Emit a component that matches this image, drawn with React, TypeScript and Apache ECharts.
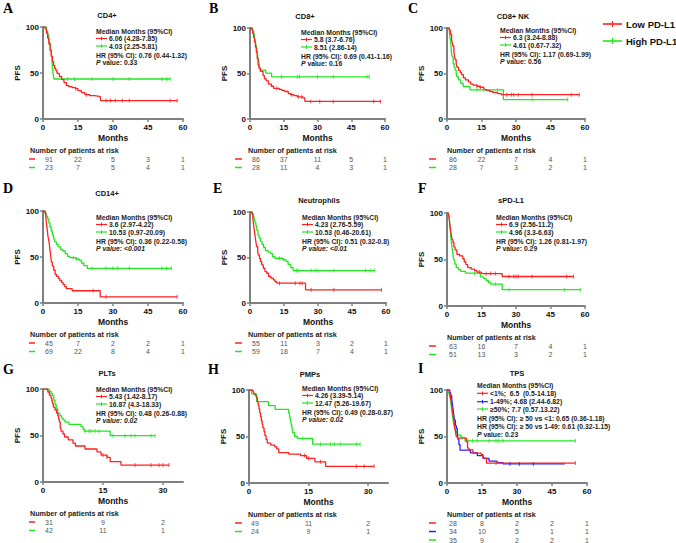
import React, { useEffect, useRef } from "react";
import * as echarts from "echarts";

const RED = "#ff2020";
const GREEN = "#22e622";
const BLUE = "#2323ff";
const AX = "#808080";
const FONT = "'Liberation Sans', Arial, Helvetica, sans-serif";
const SERIF = "'Liberation Serif', 'Times New Roman', serif";

// ---------- Panel A: CD4+ ----------
const cd4Low = [[0,100],[1,97.8],[1.5,93.4],[2,87.9],[2.5,81.3],[3,74.7],[3.5,68.1],[4,62.6],[4.5,58.2],[5,54.9],[5.5,52.7],[6,49.5],[7,46.2],[8,42.9],[9,39.6],[10,36.3],[11,35.2],[12.5,34.1],[14,33],[15,30.8],[16.5,28.6],[18,26.4],[20,25.3],[22,24.7],[24.2,24.2],[24.6,20],[57.5,20]];
const cd4LowCens = [14, 18.6, 27, 29, 31, 34, 37, 54.5, 57.5];
const cd4High = [[0,100],[1.5,95.7],[2,91.3],[2.5,87],[2.8,82.6],[3.2,78.3],[3.5,73.9],[3.7,69.6],[3.9,65.2],[4.0,56.5],[4.2,52.2],[4.4,47.8],[4.7,43.5],[54.5,43.5]];
const cd4HighCens = [10.5, 13.5, 21, 30, 37, 51, 53, 54.5];
const cd4Risk = [[91,22,5,3,1],[23,7,5,4,1]];

// ---------- Panel B: CD8+ ----------
const cd8Low = [[0,100],[0.8,97.7],[1.2,94.2],[1.6,89.5],[2,84.9],[2.4,79.1],[2.8,73.3],[3.2,66.3],[3.6,59.3],[4,55.8],[4.6,52.3],[5.8,47.7],[6.4,44.2],[7.2,41.9],[8.2,38.4],[9.5,36],[10.5,33.7],[13,32.6],[14.2,31.4],[15.5,30.2],[17,27.9],[18,26.7],[19.5,25.6],[21,24.4],[23.5,23.3],[24.4,19.3],[58,19.3]];
const cd8LowCens = [12, 18.5, 21.5, 23, 27, 31, 37, 55, 58];
const cd8High = [[0,100],[1.2,96.4],[1.6,92.9],[2,89.3],[2.3,85.7],[2.6,82.1],[2.9,78.6],[3.1,75],[3.3,71.4],[3.5,67.9],[3.8,64.3],[4,60.7],[4.3,57.1],[4.6,53.6],[7,50.5],[9.6,46.4],[53,46.4]];
const cd8HighCens = [14, 21, 22, 30, 37, 52, 53];
const cd8Risk = [[86,37,11,5,1],[28,11,4,3,1]];

// ---------- Panel C: CD8+ NK ----------
const nkLow = [[0,100],[1,97.7],[1.5,93],[2,87.2],[2.3,83.7],[2.6,80.2],[3,73.3],[3.3,68.6],[3.6,65.1],[4,60.5],[4.3,57],[5,53.5],[5.7,51.2],[6.3,48.8],[7.1,45.3],[8,43],[9.3,40.7],[10.3,38.4],[11.4,37.2],[13,36],[14.3,34.9],[16,32.6],[17,31.4],[18.5,30.2],[20,29.1],[22,27.9],[23.6,26.7],[57.5,26.7]];
const nkLowCens = [13, 14.5, 26, 28, 29, 31, 37, 54, 57.5];
const nkHigh = [[0,100],[1,96.4],[1.3,89.3],[1.6,85.7],[1.8,78.6],[2,71.4],[2.3,67.9],[2.7,60.7],[3.1,57.1],[3.5,53.6],[4,50],[4.3,46.4],[5,42.9],[6,39.3],[7,35.7],[10,32.1],[24.5,21.4],[52.5,21.4]];
const nkHighCens = [13, 16, 22, 37, 52.5];
const nkRisk = [[86,22,7,4,1],[28,7,3,2,1]];

// ---------- Panel D: CD14+ ----------
const cd14Low = [[0,100],[0.8,97.8],[1.2,93.3],[1.5,86.7],[1.8,80],[2.1,73.3],[2.4,68.9],[2.7,64.4],[3,57.8],[3.3,51.1],[3.6,44.4],[4,40],[4.6,35.6],[5.2,31.1],[5.8,28.9],[6.6,26.7],[7.2,24.4],[8,22.2],[8.6,20],[9.3,17.8],[10,15.6],[12.5,13.3],[24.5,6.7],[57.5,6.7]];
const cd14LowCens = [21.5, 27, 57.5];
const cd14High = [[0,100],[1,97.1],[1.5,94.2],[2,91.3],[2.5,87],[3,82.6],[3.5,78.3],[4,73.9],[4.5,69.6],[5,66.7],[5.7,63.8],[6.5,60.9],[7.5,58],[8.5,56.5],[9.5,53.6],[10.5,50.7],[11.5,49.3],[14,47.8],[15.5,46.4],[16.5,43.5],[17.5,40.6],[19,37.7],[55,37.7]];
const cd14HighCens = [13, 14.5, 21, 27, 30, 32, 37, 51, 53, 55];
const cd14Risk = [[45,7,2,2,1],[69,22,8,4,1]];

// ---------- Panel E: Neutrophils ----------
const neuLow = [[0,100],[0.8,98.2],[1.2,94.5],[1.5,87.3],[1.8,81.8],[2.1,76.4],[2.4,70.9],[2.7,65.5],[3,61.8],[3.4,56.4],[3.7,52.7],[4.2,49.1],[4.6,45.5],[5.2,41.8],[5.9,38.2],[6.6,34.5],[7.4,32.7],[8.2,29.1],[9.2,27.3],[10.3,25.5],[11,23.6],[11.8,21.8],[24.5,14.5],[58,14.5]];
const neuLowCens = [13, 20, 22, 23, 27, 37, 58];
const neuHigh = [[0,100],[1,98.3],[1.4,94.9],[1.8,91.5],[2.2,88.1],[2.6,84.7],[3,79.7],[3.5,74.6],[4,71.2],[4.7,67.8],[5.3,64.4],[6,61],[6.8,57.6],[8,55.9],[9,54.2],[10,50.8],[11,49.2],[14.5,47.5],[16,45.8],[16.8,42.4],[18,39],[19,35.6],[55,35.6]];
const neuHighCens = [13, 15, 20.5, 21.5, 27, 29, 30, 37, 51, 53, 55];
const neuRisk = [[55,11,3,2,1],[59,18,7,4,1]];

// ---------- Panel F: sPD-L1 ----------
const spdLow = [[0,100],[0.6,98.4],[0.9,95.2],[1.1,90.5],[1.3,85.7],[1.6,81],[1.9,76.2],[2.2,71.4],[2.6,68.3],[3,63.5],[3.5,60.3],[4.3,55.6],[5.5,54],[6.9,50.8],[7.5,47.6],[8.2,44.4],[9,41.3],[10.5,39.7],[12,38.1],[13,36.5],[15,34.9],[24,31.7],[55,31.7]];
const spdLowCens = [14, 17, 19, 21, 27, 29, 30, 31, 37, 52, 55];
const spdHigh = [[0,100],[0.7,98],[1,94.1],[1.2,88.2],[1.4,82.4],[1.6,76.5],[1.8,70.6],[2.1,64.7],[2.4,58.8],[2.7,52.9],[3,49],[3.4,45.1],[4,41.2],[5,39.2],[6,37.3],[8,35.3],[14.5,31.4],[16,29.4],[17,27.5],[18,25.5],[19,23.5],[24,17.6],[58,17.6]];
const spdHighCens = [12, 21, 27, 51, 58];
const spdRisk = [[63,16,7,4,1],[51,13,3,2,1]];

// ---------- Panel G: PLTs ----------
const pltLow = [[0,100],[1.2,96.8],[1.6,93.5],[2,90.3],[2.2,87.1],[2.4,83.9],[2.6,80.6],[3,77.4],[3.4,74.2],[3.7,71],[3.9,67.7],[4.1,64.5],[4.3,58.1],[4.5,54.8],[5,51.6],[5.4,48.4],[6.3,45.2],[7.5,41.9],[8.1,38.7],[10.5,35.5],[13.5,32.3],[14.5,29],[16,26.5],[16.8,21.9],[19.5,18.2],[31.5,18.2]];
const pltLowCens = [15, 16, 23, 27, 29, 30, 31.5];
const pltHigh = [[0,100],[1.5,97.6],[2,95.2],[2.4,92.9],[2.7,88.1],[3,83.3],[3.3,78.6],[3.7,73.8],[4.2,71.4],[4.6,69],[5,66.7],[5.5,64.3],[6.5,61.9],[9.5,59.5],[10,57.1],[10.3,54.8],[16.8,49.8],[28,49.8]];
const pltHighCens = [10.5, 11.5, 12, 13, 14, 17.5, 20.5, 22, 23, 27, 28];
const pltRisk = [[31,9,2],[42,11,1]];

// ---------- Panel H: PMPs ----------
const pmpLow = [[0,100],[1,98],[1.2,95.9],[1.6,93.9],[1.9,91.8],[2.1,87.8],[2.3,83.7],[2.5,79.6],[2.7,75.5],[2.9,71.4],[3.1,67.3],[3.3,63.3],[3.5,59.2],[3.8,55.1],[4,51],[4.3,46.9],[4.6,42.9],[5.5,40.8],[6.5,38.8],[7,36.7],[7.5,32.7],[10,31.1],[13,29.5],[14.5,26.5],[16.6,22.8],[19.3,17.9],[31.5,17.9]];
const pmpLowCens = [14, 15, 18, 27, 29, 31.5];
const pmpHigh = [[0,100],[0.7,95.8],[1.9,87.5],[4.9,83.3],[6.6,79.2],[10,75],[10.2,70.8],[10.4,66.7],[10.6,62.5],[10.8,58.3],[11,54.2],[11.5,50],[12.2,47.9],[16,41.7],[28,41.7]];
const pmpHighCens = [13.5, 18, 20.5, 21.5, 23, 27, 28];
const pmpRisk = [[49,11,2],[24,9,1]];

// ---------- Panel I: TPS ----------
const tpsLow = [[0,100],[1,96.4],[1.4,92.9],[1.7,89.3],[1.9,85.7],[2.1,82.1],[2.3,78.6],[2.5,75],[2.7,71.4],[2.9,67.9],[3.1,64.3],[3.3,60.7],[3.5,57.1],[3.7,53.6],[4,50],[4.5,48.2],[8.3,44.6],[8.8,37.5],[9.4,35.7],[11.1,32.1],[14.7,30.4],[15.4,26.8],[16.9,21.4],[55,21.4]];
const tpsLowCens = [21, 55];
const tpsMid = [[0,100],[1.2,97.1],[1.6,94.1],[2,91.2],[2.3,85.3],[2.6,79.4],[2.9,73.5],[3.2,67.6],[3.6,61.8],[4,58.8],[4.4,52.9],[4.7,47.1],[5.1,41.2],[5.6,35.3],[10,32.4],[13,29.4],[15.5,26.5],[18,23.5],[21.5,22],[24,20.5],[50.5,20.5]];
const tpsMidCens = [27, 31, 37];
const tpsHigh = [[0,100],[0.8,97.1],[1,94.3],[1.3,91.4],[1.5,88.6],[1.7,85.7],[1.9,80],[2.1,77.1],[2.4,71.4],[2.6,68.6],[2.9,62.9],[3.2,60],[3.5,57.1],[3.9,54.3],[4.5,51.4],[6,48.6],[7.7,45.3],[55,45.3]];
const tpsHighCens = [6.5, 8, 9, 11, 13, 18, 21, 22, 24, 55];
const tpsRisk = [[28,8,2,2,1],[34,10,5,1,1],[35,9,2,2,1]];

// ---------- Texts ----------
const letters = ["A","B","C","D","E","F","G","H","I"];
const titles = ["CD4+","CD8+","CD8+ NK","CD14+","Neutrophils","sPD-L1","PLTs","PMPs","TPS"];
const xMaxes = [60,60,60,60,60,60,35,35,60];
const ticks60 = [0,15,30,45,60];
const ticks35 = [0,15,30];
const medianLines = [
  ["6.06 (4.28-7.85)","4.03 (2.25-5.81)"],
  ["5.8 (3.7-6.76)","8.51 (2.86-14)"],
  ["6.3 (3.24-8.88)","4.61 (0.67-7.32)"],
  ["3.6 (2.97-4.22)","10.53 (0.97-20.09)"],
  ["4.23 (2.76-5.59)","10.53 (0.46-20.61)"],
  ["6.9 (2.56-11.2)","4.96 (3.3-6.63)"],
  ["5.43 (1.42-8.17)","16.87 (4.3-18.33)"],
  ["4.26 (3.39-5.14)","12.47 (5.26-19.67)"],
  ["<1%;  6.5  (0.5-14.18)","1-49%; 4.68 (2.44-6.82)","≥50%; 7.7 (0.57.13.22)"],
];
const hrLines = [
  ["HR (95% CI): 0.76 (0.44-1.32)"],
  ["HR (95% CI): 0.69 (0.41-1.16)"],
  ["HR (95% CI): 1.17 (0.69-1.99)"],
  ["HR (95% CI): 0.36 (0.22-0.58)"],
  ["HR (95% CI): 0.51 (0.32-0.8)"],
  ["HR (95% CI): 1.26 (0.81-1.97)"],
  ["HR (95% CI): 0.48 (0.26-0.88)"],
  ["HR (95% CI): 0.49 (0.28-0.87)"],
  ["HR (95% CI): ≥ 50 vs <1: 0.65 (0.36-1.18)","HR (95% CI): ≥ 50 vs 1-49: 0.61 (0.32-1.15)"],
];
const pValues = ["0.33","0.16","0.56","<0.001","<0.01","0.29","0.02","0.02","0.23"];
const pAllItalic = [false,false,false,true,true,false,true,true,false];
const legendNames = ["Low PD-L1","High PD-L1"];

const panelCurves = [
  [cd4Low, cd4High],[cd8Low, cd8High],[nkLow, nkHigh],
  [cd14Low, cd14High],[neuLow, neuHigh],[spdLow, spdHigh],
  [pltLow, pltHigh],[pmpLow, pmpHigh],[tpsLow, tpsMid, tpsHigh],
];
const panelCens = [
  [cd4LowCens, cd4HighCens],[cd8LowCens, cd8HighCens],[nkLowCens, nkHighCens],
  [cd14LowCens, cd14HighCens],[neuLowCens, neuHighCens],[spdLowCens, spdHighCens],
  [pltLowCens, pltHighCens],[pmpLowCens, pmpHighCens],[tpsLowCens, tpsMidCens, tpsHighCens],
];
const panelRisk = [cd4Risk, cd8Risk, nkRisk, cd14Risk, neuRisk, spdRisk, pltRisk, pmpRisk, tpsRisk];

// ---------- Layout (positions only) ----------
const GRID = [
  { l: 43, t: 27, w: 140, h: 92 }, { l: 250, t: 28, w: 135, h: 91 }, { l: 447, t: 28, w: 138, h: 91 },
  { l: 43, t: 211, w: 140, h: 92 }, { l: 250, t: 212, w: 136, h: 91 }, { l: 447, t: 213, w: 138, h: 93 },
  { l: 43, t: 389, w: 140, h: 93 }, { l: 249, t: 390, w: 139, h: 93 }, { l: 447, t: 390, w: 140, h: 93 },
];
const TITLE_POS = [[107,15],[305,16],[513,16],[107,193],[319,200],[511,200],[107,373],[310,374],[517,373]];
const LETTER_POS = [[3,8],[209,8],[408,8],[3,188],[213,188],[418,188],[3,369],[208,369],[418,368]];
const MED_X = [96, 301, 500, 96, 302, 496, 96, 302, 477];
const MED_Y = [31, 32, 30, 217, 217, 217, 389, 388, 385];
const COL_HEADER_X = [30, 248, 447];
const COL_DASH = [[29, 35], [235, 242], [429, 436]];

function survAt(curve: number[][], t: number) {
  let v = curve[0][1];
  for (const p of curve) { if (p[0] <= t) v = p[1]; else break; }
  return v;
}

function txt(x: number, y: number, text: string, size: number, o: any = {}) {
  return {
    type: "text", x, y, silent: true, z: 10,
    style: {
      text, fontSize: size, fontFamily: o.family || FONT, fontWeight: o.bold ? "bold" : "normal",
      fontStyle: o.italic ? "italic" : "normal",
      fill: o.color || "#111", textAlign: o.align || "left", textVerticalAlign: "middle",
      rich: o.rich,
    },
  };
}
function seg(x1: number, y1: number, x2: number, y2: number, color: string, w = 1.3) {
  return { type: "line", silent: true, z: 10, shape: { x1, y1, x2, y2 }, style: { stroke: color, lineWidth: w } };
}

export default function App() {
  const ref = useRef<HTMLDivElement>(null);
  useEffect(() => {
    const chart = echarts.init(ref.current!, null, { renderer: "svg" });
    const grids: any[] = [], xAxes: any[] = [], yAxes: any[] = [], series: any[] = [];
    const labelStyle = { fontSize: 8, fontWeight: "bold", color: "#111", fontFamily: FONT };
    panelCurves.forEach((curves, i) => {
      const g = GRID[i];
      const ticks = xMaxes[i] === 60 ? ticks60 : ticks35;
      const colors = curves.length === 3 ? [RED, BLUE, GREEN] : [RED, GREEN];
      grids.push({ left: g.l, top: g.t, width: g.w, height: g.h, containLabel: false, outerBoundsMode: "none" });
      xAxes.push({
        type: "value", gridIndex: i, min: 0, max: xMaxes[i], interval: 15,
        name: "Months", nameLocation: "middle", nameGap: 14,
        nameTextStyle: { fontSize: 8.5, fontWeight: "bold", color: "#111", fontFamily: FONT },
        axisLine: { show: true, lineStyle: { color: AX, width: 2 } },
        axisTick: { show: true, length: 3, lineStyle: { color: AX, width: 1.5 }, customValues: ticks },
        axisLabel: { ...labelStyle, margin: 4, customValues: ticks },
        splitLine: { show: false },
      });
      yAxes.push({
        type: "value", gridIndex: i, min: 0, max: 100, interval: 50,
        name: "PFS", nameLocation: "middle", nameGap: 19,
        nameTextStyle: { fontSize: 8, fontWeight: "bold", color: "#111", fontFamily: FONT },
        axisLine: { show: true, lineStyle: { color: AX, width: 2 } },
        axisTick: { show: true, length: 3, lineStyle: { color: AX, width: 1.5 } },
        axisLabel: { ...labelStyle, margin: 4 },
        splitLine: { show: false },
      });
      curves.forEach((c, k) => {
        series.push({
          type: "line", xAxisIndex: i, yAxisIndex: i, data: c, step: "end", symbol: "none",
          lineStyle: { color: colors[k], width: 1.3 }, silent: true, z: 3 + (curves.length - k),
        });
        series.push({
          type: "scatter", xAxisIndex: i, yAxisIndex: i,
          data: panelCens[i][k].map((t) => [t, survAt(c, t)]),
          symbol: "rect", symbolSize: [1, 4], itemStyle: { color: colors[k] }, silent: true, z: 6,
        });
      });
    });
    chart.setOption({ animation: false, grid: grids, xAxis: xAxes, yAxis: yAxes, series });

    const gfx: any[] = [];
    panelCurves.forEach((curves, i) => {
      const g = GRID[i];
      const col = i % 3;
      const colors = curves.length === 3 ? [RED, BLUE, GREEN] : [RED, GREEN];
      const ticks = xMaxes[i] === 60 ? ticks60 : ticks35;
      gfx.push(txt(LETTER_POS[i][0], LETTER_POS[i][1], letters[i], 14, { bold: true, family: SERIF, color: "#000" }));
      gfx.push(txt(TITLE_POS[i][0], TITLE_POS[i][1], titles[i], 7.5, { bold: true, align: "center", color: "#111" }));
      // median block
      const bx = MED_X[i], by = MED_Y[i];
      const three = curves.length === 3;
      const offs = three ? [0, 8.3, 16.7, 24, 33.3, 41, 49] : [0, 7.5, 15, 24, 31];
      const fs = 6.8;
      gfx.push(txt(bx, by, "Median Months (95%CI)", fs, { bold: true, color: "#222" }));
      medianLines[i].forEach((s, k) => {
        const y = by + offs[k + 1];
        gfx.push(seg(bx, y, bx + 11, y, colors[k], 1.2));
        gfx.push(seg(bx + 5.5, y - 1.8, bx + 5.5, y + 1.8, colors[k], 1));
        gfx.push(txt(bx + 13, y, s, fs, { bold: true, color: "#222" }));
      });
      const nl = medianLines[i].length;
      hrLines[i].forEach((s, k) => {
        gfx.push(txt(bx, by + offs[nl + 1 + k], s, fs, { bold: true, color: "#222" }));
      });
      const pY = by + offs[nl + 1 + hrLines[i].length];
      const it = pAllItalic[i];
      gfx.push(txt(bx, pY, `{p|P}{v| value: ${pValues[i]}}`, fs, {
        bold: true, color: "#222",
        rich: {
          p: { fontStyle: "italic", fontWeight: "bold", fontSize: fs, fontFamily: FONT, fill: "#222" },
          v: { fontStyle: it ? "italic" : "normal", fontWeight: "bold", fontSize: fs, fontFamily: FONT, fill: "#222" },
        },
      }));
      // risk table
      const hy = g.t + g.h + 31;
      gfx.push(txt(COL_HEADER_X[col], hy, "Number of patients at risk", 7.2, { bold: true, color: "#222" }));
      const rowOff = [9, 17.5, 26];
      panelRisk[i].forEach((row, r) => {
        const y = hy + rowOff[r];
        gfx.push(seg(COL_DASH[col][0], y, COL_DASH[col][1], y, colors[r], 1.5));
        row.forEach((v, k) => {
          const px = chart.convertToPixel({ xAxisIndex: i }, ticks[k]) as number;
          gfx.push(txt(px + (k === 0 ? 6 : 0), y, String(v), 7, { align: "center", color: "#555" }));
        });
      });
    });
    // global legend
    [RED, GREEN].forEach((c, k) => {
      const y = 24 + k * 17;
      gfx.push(seg(603, y, 622, y, c, 1.6));
      gfx.push(seg(612.5, y - 3, 612.5, y + 3, c, 1.2));
      gfx.push(txt(626, y, legendNames[k], 9.5, { bold: true, color: "#111" }));
    });
    chart.setOption({ graphic: { elements: gfx } });
    return () => chart.dispose();
  }, []);
  return <div ref={ref} style={{ position: "absolute", left: 0, top: 0, width: 676, height: 543, background: "#fff" }} />;
}
